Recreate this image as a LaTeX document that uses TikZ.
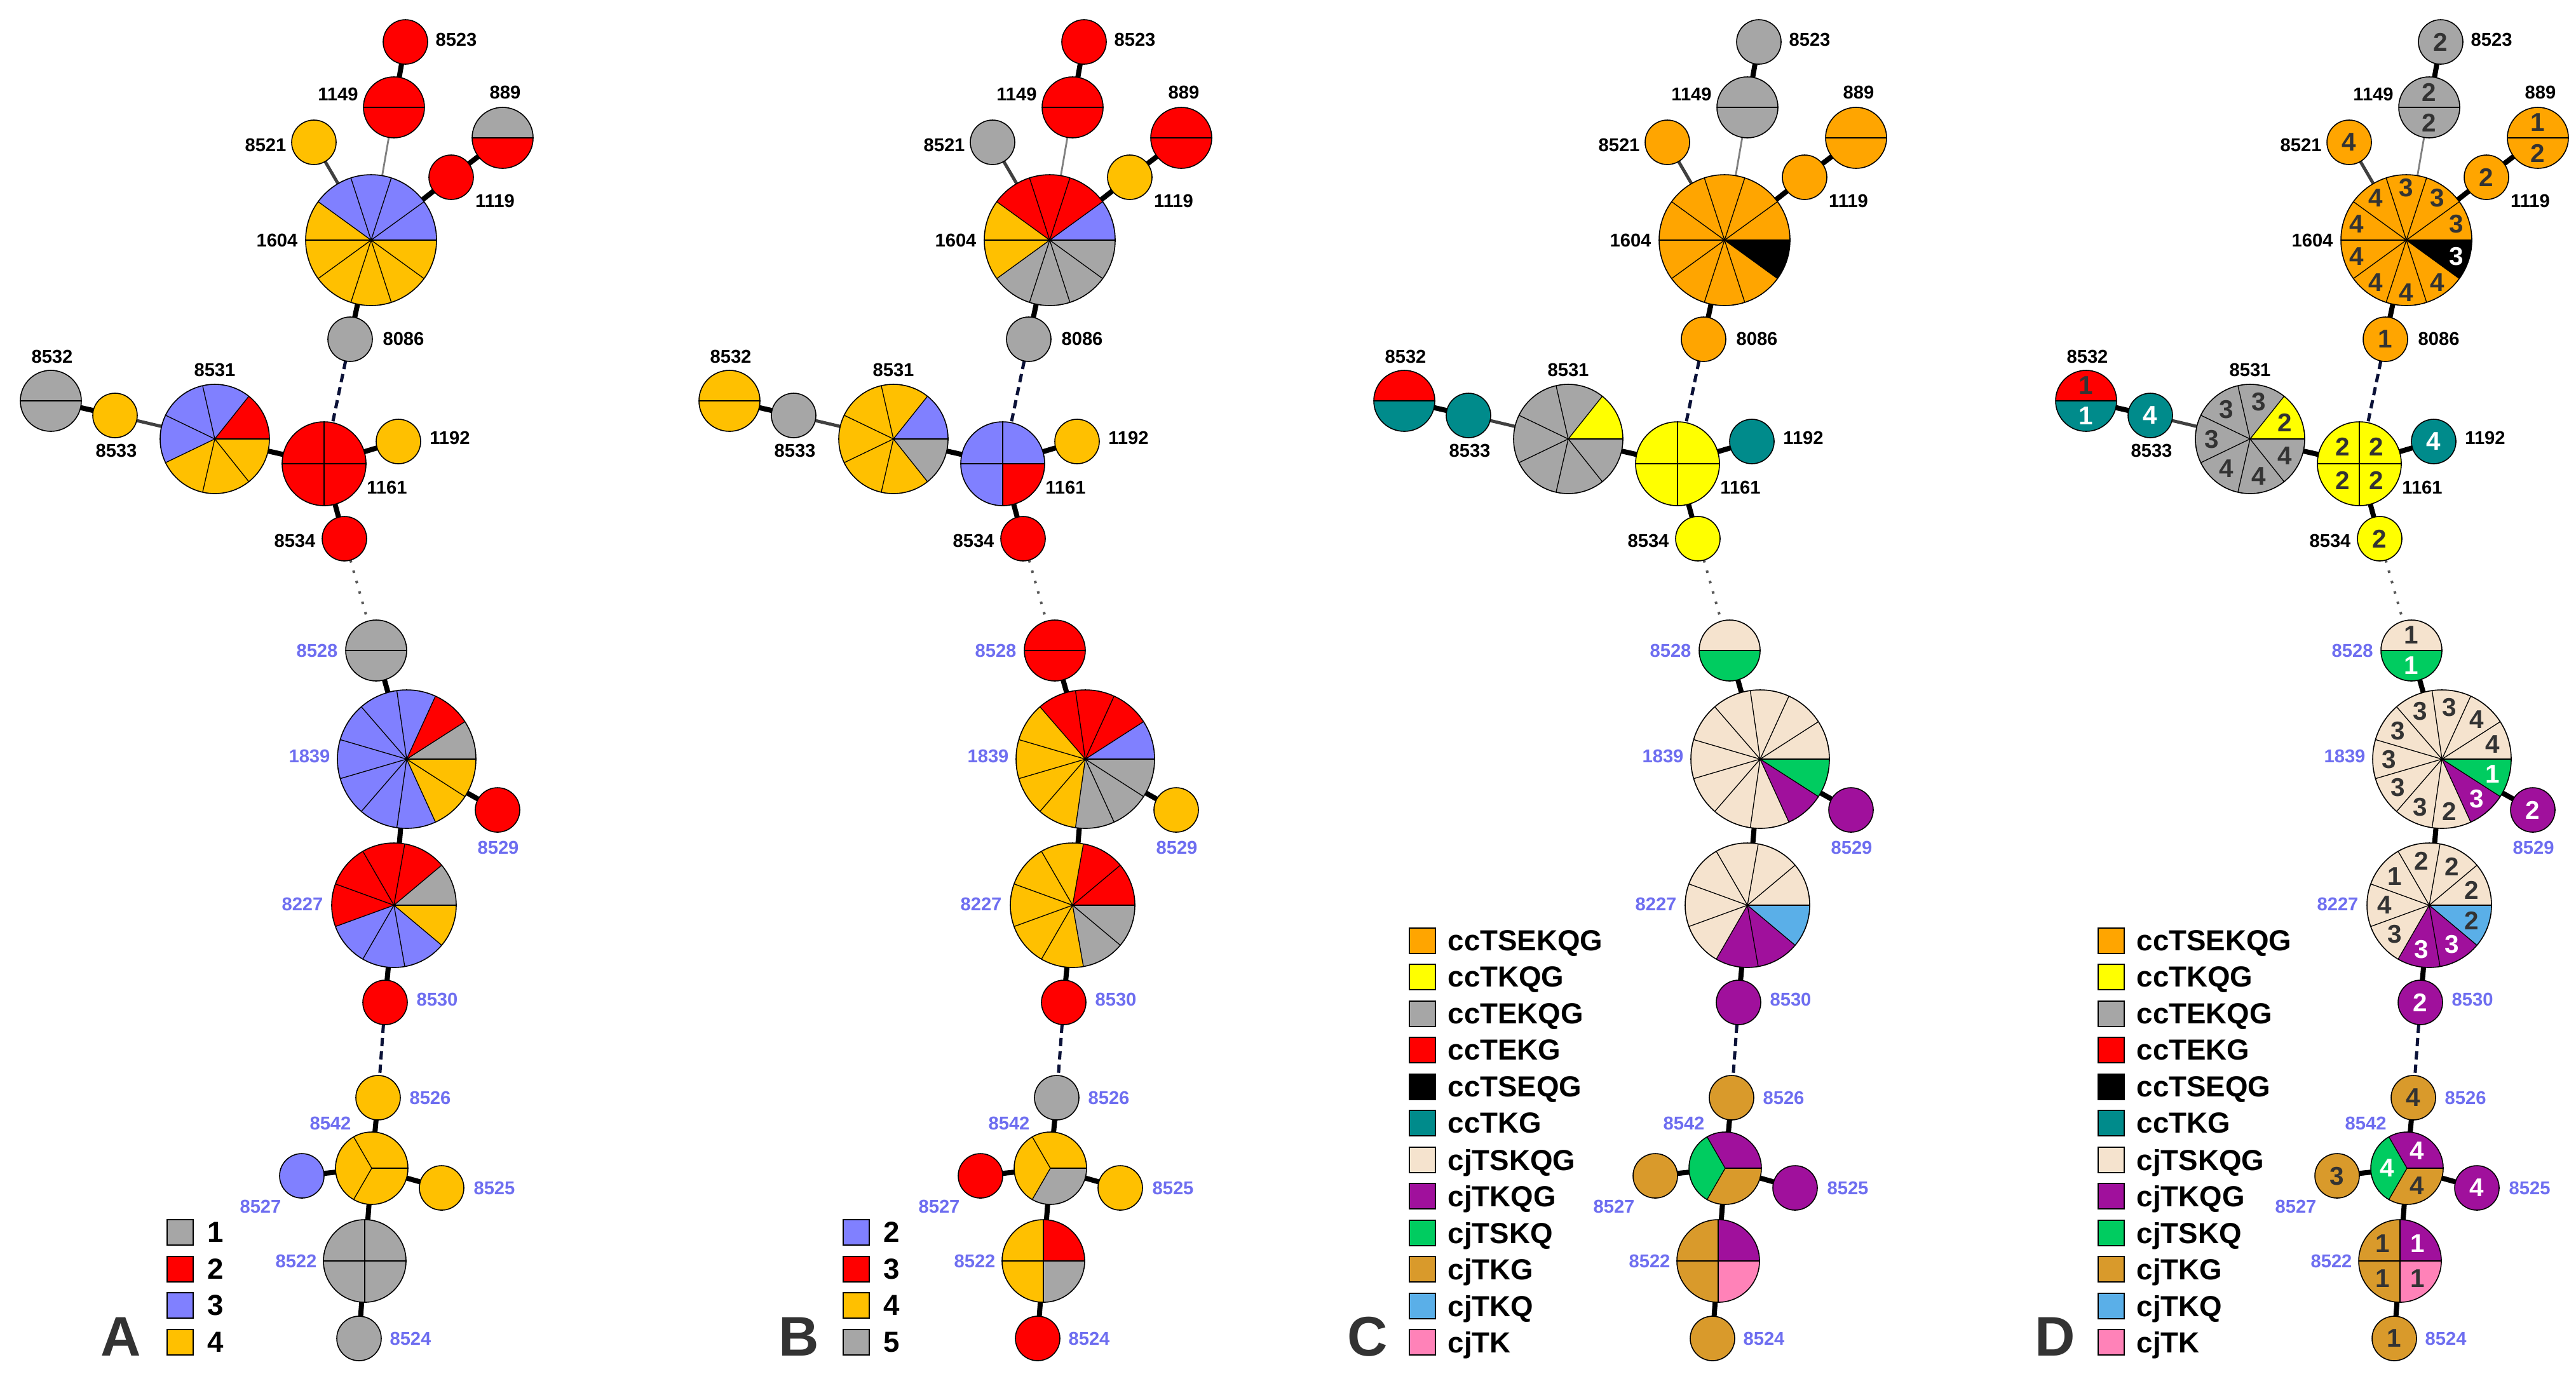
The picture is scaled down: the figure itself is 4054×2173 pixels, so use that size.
\documentclass[tikz,border=0pt]{standalone}
\usepackage{fontspec}
\setmainfont{Liberation Sans}
\usetikzlibrary{positioning}

\definecolor{gy}{HTML}{A6A6A6}
\definecolor{rd}{HTML}{FF0000}
\definecolor{lv}{HTML}{8080FF}
\definecolor{am}{HTML}{FFC000}
\definecolor{og}{HTML}{FFA500}
\definecolor{yw}{HTML}{FFFF00}
\definecolor{bk}{HTML}{000000}
\definecolor{tl}{HTML}{008B8B}
\definecolor{bq}{HTML}{F5E3CE}
\definecolor{pu}{HTML}{A0109C}
\definecolor{gn}{HTML}{00CC60}
\definecolor{gd}{HTML}{D99A2B}
\definecolor{lb}{HTML}{5AAFE8}
\definecolor{pk}{HTML}{FF82B8}
\definecolor{dk}{HTML}{333333}
\definecolor{wt}{HTML}{FFFFFF}
\definecolor{labblue}{HTML}{6E6EF0}
\definecolor{linknavy}{HTML}{0B1238}

\tikzset{
  isolate/.style={circle, minimum size=#1*0.2mm, inner sep=0pt, outer sep=0pt},
  lab/.style={font=\fontsize{8.3}{9}\selectfont\bfseries, inner sep=0pt, text depth=0pt},
  labb/.style={lab, text=labblue},
  link/.style={line width=0.8mm},
  weak/.style={line width=0.5mm, draw=black!75},
  faint/.style={line width=0.28mm, draw=black!50},
  gaplink/.style={line width=0.5mm, draw=linknavy, dash pattern=on 1.3mm off 0.8mm},
  farlink/.style={line width=0.4mm, draw=black!65, dash pattern=on 0.4mm off 1.3mm},
  slice/.style={line width=0.13mm},
  rim/.style={line width=0.16mm},
  num/.style={font=\fontsize{11.5}{12}\selectfont\bfseries, inner sep=0pt, text depth=0pt},
  keybox/.style={draw, line width=0.2mm, minimum width=4.1mm, minimum height=4mm, inner sep=0pt},
  keytext/.style={font=\fontsize{13}{14}\selectfont\bfseries, inner sep=0pt, text depth=0pt},
  paneltag/.style={font=\fontsize{25}{26}\selectfont\bfseries, text=dk, inner sep=0pt, text depth=0pt}
}

% #1 node, #2 radius, #3 slices, #4 fills
\newcommand{\stpie}[4]{%
  \foreach \fc [count=\k] in {#4}
    \fill[fill=\fc] (#1.center) -- ++({(\k-1)*360/#3}:#2)
      arc[start angle={(\k-1)*360/#3}, end angle={\k*360/#3}, radius=#2] -- cycle;
  \ifnum#3>1
    \foreach \k in {1,...,#3}
      \draw[slice] (#1.center) -- ++({(\k-1)*360/#3}:#2);
  \fi
  \draw[rim] (#1.center) circle[radius=#2];
}

% #1 node, #2 radius, #3 slices, #4 fraction of radius, #5 number/colour
\newcommand{\stnums}[5]{%
  \foreach \nv/\tc [count=\k] in {#5}
    \node[num, text=\tc] (#1-n\k) at ([shift={({(\k-0.5)*360/#3}:{#4*#2})}]#1.center) {\nv};
}

% #1 panel prefix, #2 x offset
\newcommand{\mstree}[2]{%
  \begin{scope}[shift={(#2,0)}]
    \node[isolate=35]  (#1-8523) at (638,-66)   {};
    \node[isolate=48]  (#1-1149) at (620,-169)  {};
    \node[isolate=48]  (#1-889)  at (791,-217)  {};
    \node[isolate=35]  (#1-8521) at (494,-224)  {};
    \node[isolate=35]  (#1-1119) at (710,-279)  {};
    \node[isolate=103] (#1-1604) at (584,-378)  {};
    \node[isolate=35]  (#1-8086) at (551,-534)  {};
    \node[isolate=48]  (#1-8532) at (80,-631)   {};
    \node[isolate=35]  (#1-8533) at (181,-654)  {};
    \node[isolate=86]  (#1-8531) at (338,-691)  {};
    \node[isolate=66]  (#1-1161) at (510,-730)  {};
    \node[isolate=35]  (#1-1192) at (627,-695)  {};
    \node[isolate=35]  (#1-8534) at (542,-848)  {};
    \node[isolate=48]  (#1-8528) at (592,-1024) {};
    \node[isolate=109] (#1-1839) at (640,-1195) {};
    \node[isolate=35]  (#1-8529) at (783,-1275) {};
    \node[isolate=98]  (#1-8227) at (620,-1425) {};
    \node[isolate=35]  (#1-8530) at (606,-1578) {};
    \node[isolate=35]  (#1-8526) at (595,-1728) {};
    \node[isolate=57]  (#1-8542) at (585,-1839) {};
    \node[isolate=35]  (#1-8527) at (475,-1851) {};
    \node[isolate=35]  (#1-8525) at (695,-1870) {};
    \node[isolate=65]  (#1-8522) at (574,-1985) {};
    \node[isolate=35]  (#1-8524) at (565,-2107) {};

    \node[lab]  (#1-8523l) at (718,-62)   {8523};
    \node[lab]  (#1-1149l) at (532,-148)  {1149};
    \node[lab]  (#1-889l)  at (795,-145)  {889};
    \node[lab]  (#1-8521l) at (418,-228)  {8521};
    \node[lab]  (#1-1119l) at (779,-316)  {1119};
    \node[lab]  (#1-1604l) at (436,-378)  {1604};
    \node[lab]  (#1-8086l) at (635,-533)  {8086};
    \node[lab]  (#1-8532l) at (82,-561)   {8532};
    \node[lab]  (#1-8533l) at (183,-709)  {8533};
    \node[lab]  (#1-8531l) at (338,-582)  {8531};
    \node[lab]  (#1-1192l) at (708,-689)  {1192};
    \node[lab]  (#1-1161l) at (609,-767)  {1161};
    \node[lab]  (#1-8534l) at (464,-851)  {8534};
    \node[labb] (#1-8528l) at (499,-1024) {8528};
    \node[labb] (#1-1839l) at (487,-1190) {1839};
    \node[labb] (#1-8529l) at (784,-1334) {8529};
    \node[labb] (#1-8227l) at (476,-1423) {8227};
    \node[labb] (#1-8530l) at (688,-1573) {8530};
    \node[labb] (#1-8526l) at (677,-1728) {8526};
    \node[labb] (#1-8542l) at (520,-1768) {8542};
    \node[labb] (#1-8527l) at (410,-1899) {8527};
    \node[labb] (#1-8525l) at (778,-1870) {8525};
    \node[labb] (#1-8522l) at (466,-1985) {8522};
    \node[labb] (#1-8524l) at (646,-2107) {8524};

    \foreach \u/\v in {8523/1149, 889/1119, 1119/1604, 1604/8086, 8532/8533,
        8531/1161, 1161/1192, 1161/8534, 8528/1839, 1839/8529, 1839/8227,
        8227/8530, 8526/8542, 8542/8527, 8542/8525, 8542/8522, 8522/8524}
      \draw[link] (#1-\u) -- (#1-\v);
    \draw[faint] (#1-1149) -- (#1-1604);
    \draw[weak] (#1-8521) -- (#1-1604);
    \draw[weak] (#1-8533) -- (#1-8531);
    \draw[gaplink] (#1-8086) -- (#1-1161);
    \draw[gaplink] (#1-8530) -- (#1-8526);
    \draw[farlink] (#1-8534) -- (#1-8528);
  \end{scope}}

\begin{document}
\begin{tikzpicture}[x=0.1mm, y=0.1mm]
        \useasboundingbox (0,0) rectangle (4054,-2173);

        \mstree{A}{0}
        \mstree{B}{1068}
        \mstree{C}{2130}
        \mstree{D}{3203}

        % A
        \stpie{A-8523}{35}{1}{rd}
        \stpie{A-1149}{48}{2}{rd,rd}
        \stpie{A-889}{48}{2}{gy,rd}
        \stpie{A-8521}{35}{1}{am}
        \stpie{A-1119}{35}{1}{rd}
        \stpie{A-1604}{103}{10}{lv,lv,lv,lv,am,am,am,am,am,am}
        \stpie{A-8086}{35}{1}{gy}
        \stpie{A-8532}{48}{2}{gy,gy}
        \stpie{A-8533}{35}{1}{am}
        \stpie{A-8531}{86}{7}{rd,lv,lv,lv,am,am,am}
        \stpie{A-1161}{66}{4}{rd,rd,rd,rd}
        \stpie{A-1192}{35}{1}{am}
        \stpie{A-8534}{35}{1}{rd}
        \stpie{A-8528}{48}{2}{gy,gy}
        \stpie{A-1839}{109}{11}{gy,rd,lv,lv,lv,lv,lv,lv,lv,am,am}
        \stpie{A-8529}{35}{1}{rd}
        \stpie{A-8227}{98}{9}{gy,rd,rd,rd,rd,lv,lv,lv,am}
        \stpie{A-8530}{35}{1}{rd}
        \stpie{A-8526}{35}{1}{am}
        \stpie{A-8542}{57}{3}{am,am,am}
        \stpie{A-8527}{35}{1}{lv}
        \stpie{A-8525}{35}{1}{am}
        \stpie{A-8522}{65}{4}{gy,gy,gy,gy}
        \stpie{A-8524}{35}{1}{gy}

        % B
        \stpie{B-8523}{35}{1}{rd}
        \stpie{B-1149}{48}{2}{rd,rd}
        \stpie{B-889}{48}{2}{rd,rd}
        \stpie{B-8521}{35}{1}{gy}
        \stpie{B-1119}{35}{1}{am}
        \stpie{B-1604}{103}{10}{lv,rd,rd,rd,am,am,gy,gy,gy,gy}
        \stpie{B-8086}{35}{1}{gy}
        \stpie{B-8532}{48}{2}{am,am}
        \stpie{B-8533}{35}{1}{gy}
        \stpie{B-8531}{86}{7}{lv,am,am,am,am,am,gy}
        \stpie{B-1161}{66}{4}{lv,lv,lv,rd}
        \stpie{B-1192}{35}{1}{am}
        \stpie{B-8534}{35}{1}{rd}
        \stpie{B-8528}{48}{2}{rd,rd}
        \stpie{B-1839}{109}{11}{lv,rd,rd,rd,am,am,am,am,gy,gy,gy}
        \stpie{B-8529}{35}{1}{am}
        \stpie{B-8227}{98}{9}{rd,rd,am,am,am,am,am,gy,gy}
        \stpie{B-8530}{35}{1}{rd}
        \stpie{B-8526}{35}{1}{gy}
        \stpie{B-8542}{57}{3}{am,am,gy}
        \stpie{B-8527}{35}{1}{rd}
        \stpie{B-8525}{35}{1}{am}
        \stpie{B-8522}{65}{4}{rd,am,am,gy}
        \stpie{B-8524}{35}{1}{rd}

        % C and D
        \foreach \p in {C,D}{
          \stpie{\p-8523}{35}{1}{gy}
          \stpie{\p-1149}{48}{2}{gy,gy}
          \stpie{\p-889}{48}{2}{og,og}
          \stpie{\p-8521}{35}{1}{og}
          \stpie{\p-1119}{35}{1}{og}
          \stpie{\p-1604}{103}{10}{og,og,og,og,og,og,og,og,og,bk}
          \stpie{\p-8086}{35}{1}{og}
          \stpie{\p-8532}{48}{2}{rd,tl}
          \stpie{\p-8533}{35}{1}{tl}
          \stpie{\p-8531}{86}{7}{yw,gy,gy,gy,gy,gy,gy}
          \stpie{\p-1161}{66}{4}{yw,yw,yw,yw}
          \stpie{\p-1192}{35}{1}{tl}
          \stpie{\p-8534}{35}{1}{yw}
          \stpie{\p-8528}{48}{2}{bq,gn}
          \stpie{\p-1839}{109}{11}{bq,bq,bq,bq,bq,bq,bq,bq,bq,pu,gn}
          \stpie{\p-8529}{35}{1}{pu}
          \stpie{\p-8227}{98}{9}{bq,bq,bq,bq,bq,bq,pu,pu,lb}
          \stpie{\p-8530}{35}{1}{pu}
          \stpie{\p-8526}{35}{1}{gd}
          \stpie{\p-8542}{57}{3}{pu,gn,gd}
          \stpie{\p-8527}{35}{1}{gd}
          \stpie{\p-8525}{35}{1}{pu}
          \stpie{\p-8522}{65}{4}{pu,gd,gd,pk}
          \stpie{\p-8524}{35}{1}{gd}
        }

        % counts in D
        \stnums{D-8523}{35}{1}{0}{2/dk}
        \stnums{D-1149}{48}{2}{0.5}{2/dk,2/dk}
        \stnums{D-889}{48}{2}{0.5}{1/dk,2/dk}
        \stnums{D-8521}{35}{1}{0}{4/dk}
        \stnums{D-1119}{35}{1}{0}{2/dk}
        \stnums{D-1604}{103}{10}{0.8}{3/dk,3/dk,3/dk,4/dk,4/dk,4/dk,4/dk,4/dk,4/dk,3/wt}
        \stnums{D-8086}{35}{1}{0}{1/dk}
        \stnums{D-8532}{48}{2}{0.5}{1/dk,1/wt}
        \stnums{D-8533}{35}{1}{0}{4/wt}
        \stnums{D-8531}{86}{7}{0.7}{2/dk,3/dk,3/dk,3/dk,4/dk,4/dk,4/dk}
        \stnums{D-1161}{66}{4}{0.57}{2/dk,2/dk,2/dk,2/dk}
        \stnums{D-1192}{35}{1}{0}{4/wt}
        \stnums{D-8534}{35}{1}{0}{2/dk}
        \stnums{D-8528}{48}{2}{0.5}{1/dk,1/wt}
        \stnums{D-1839}{109}{11}{0.76}{4/dk,4/dk,3/dk,3/dk,3/dk,3/dk,3/dk,3/dk,2/dk,3/wt,1/wt}
        \stnums{D-8529}{35}{1}{0}{2/wt}
        \stnums{D-8227}{98}{9}{0.72}{2/dk,2/dk,2/dk,1/dk,4/dk,3/dk,3/wt,3/wt,2/dk}
        \stnums{D-8530}{35}{1}{0}{2/wt}
        \stnums{D-8526}{35}{1}{0}{4/dk}
        \stnums{D-8542}{57}{3}{0.55}{4/wt,4/wt,4/dk}
        \stnums{D-8527}{35}{1}{0}{3/dk}
        \stnums{D-8525}{35}{1}{0}{4/wt}
        \stnums{D-8522}{65}{4}{0.6}{1/wt,1/dk,1/dk,1/dk}
        \stnums{D-8524}{35}{1}{0}{1/dk}

        % legends
        \foreach \c/\t [count=\i] in {gy/1,rd/2,lv/3,am/4}{
          \node[keybox, fill=\c] (A-key\i) at (283.5,{-1940-57.5*(\i-1)}) {};
          \node[keytext, right=2.1mm of A-key\i] (A-keyt\i) {\t};
        }
        \foreach \c/\t [count=\i] in {lv/2,rd/3,am/4,gy/5}{
          \node[keybox, fill=\c] (B-key\i) at (1347,{-1940-57.5*(\i-1)}) {};
          \node[keytext, right=2.1mm of B-key\i] (B-keyt\i) {\t};
        }
        \foreach \p/\x in {C/2238.5,D/3322.5}{
          \foreach \c/\t [count=\i] in {og/ccTSEKQG,yw/ccTKQG,gy/ccTEKQG,rd/ccTEKG,
              bk/ccTSEQG,tl/ccTKG,bq/cjTSKQG,pu/cjTKQG,gn/cjTSKQ,gd/cjTKG,lb/cjTKQ,pk/cjTK}{
            \node[keybox, fill=\c] (\p-key\i) at (\x,{-1480.5-57.5*(\i-1)}) {};
            \node[keytext, right=1.8mm of \p-key\i] (\p-keyt\i) {\t};
          }
        }

        \node[paneltag] (A-tag) at (190,-2104)  {A};
        \node[paneltag] (B-tag) at (1257,-2104) {B};
        \node[paneltag] (C-tag) at (2152,-2104) {C};
        \node[paneltag] (D-tag) at (3234,-2104) {D};
\end{tikzpicture}
\end{document}
